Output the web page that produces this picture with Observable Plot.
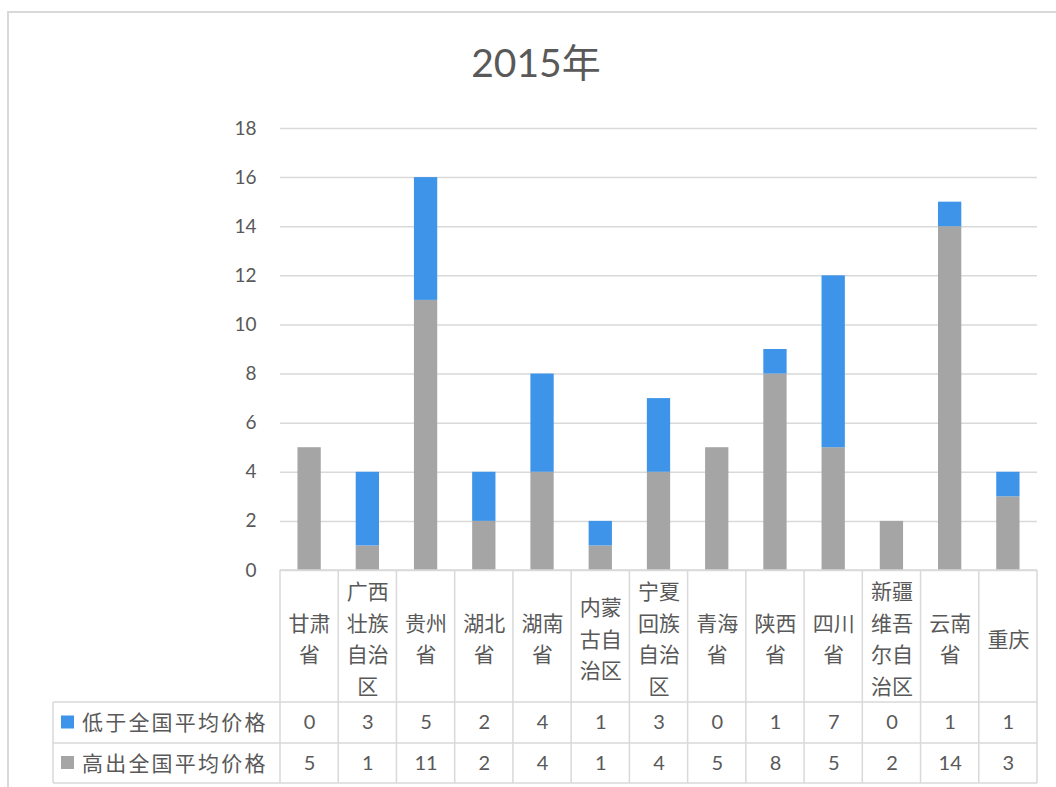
<!DOCTYPE html>
<html>
<head>
<meta charset="utf-8">
<script src="https://cdn.jsdelivr.net/npm/d3@7"></script>
<script src="https://cdn.jsdelivr.net/npm/@observablehq/plot@0.6"></script>
<style>
  body { margin: 0; background: #fff; }
  #wrap { position: relative; width: 1056px; height: 787px; overflow: hidden; font-family: Lato, "Noto Sans CJK SC", sans-serif; }
  #frame { position: absolute; left: 7px; top: 11px; width: 1100px; height: 800px; border-top: 2px solid #d9d9d9; border-left: 2px solid #d9d9d9; }
  #title { position: absolute; left: 16px; top: 43px; width: 1040px; text-align: center; font-size: 39px; line-height: 39px; color: #595959; font-family: Lato, "Noto Sans CJK SC", sans-serif; white-space: nowrap; }
  #chart { position: absolute; left: 0; top: 110px; }
</style>
</head>
<body>
<div id="wrap">
  <div id="frame"></div>
  <div id="title">2015年</div>
  <div id="chart"></div>
</div>
<script>
const titleText = "2015年";
const provinces = ["甘肃省", "广西壮族自治区", "贵州省", "湖北省", "湖南省", "内蒙古自治区", "宁夏回族自治区", "青海省", "陕西省", "四川省", "新疆维吾尔自治区", "云南省", "重庆"];
const belowAvg = [0, 3, 5, 2, 4, 1, 3, 0, 1, 7, 0, 1, 1];
const aboveAvg = [5, 1, 11, 2, 4, 1, 4, 5, 8, 5, 2, 14, 3];
const seriesNames = ["低于全国平均价格", "高出全国平均价格"];
const seriesColors = ["#3d94e8", "#a5a5a5"];
const yTicks = [0, 2, 4, 6, 8, 10, 12, 14, 16, 18];

document.getElementById("title").textContent = titleText;

// long-format table: grey (above) stacked first at the bottom, blue (below) on top
const rows = [];
provinces.forEach((p, i) => {
  rows.push({ province: p, series: seriesNames[1], value: aboveAvg[i] });
  rows.push({ province: p, series: seriesNames[0], value: belowAvg[i] });
});

const wrapLabel = (s) => (s.match(/.{1,2}/g) || [s]).join("\n");

const textColor = "#595959";
const lineColor = "#d9d9d9";

const plot = Plot.plot({
  width: 1056,
  height: 677,
  marginTop: 18,
  marginBottom: 217,
  marginLeft: 280,
  marginRight: 19,
  style: { background: "transparent", fontFamily: "Lato, 'Noto Sans CJK SC', sans-serif", color: textColor, overflow: "visible" },
  x: { domain: provinces, paddingInner: 0.6, paddingOuter: 0.3, round: false, axis: null },
  y: { domain: [0, 18], label: null },
  color: { domain: seriesNames, range: seriesColors },
  marks: [
    Plot.gridY(yTicks, { stroke: lineColor, strokeOpacity: 1, strokeWidth: 1.5 }),
    Plot.axisY(yTicks, { tickSize: 0, tickPadding: 24, fontSize: 19, fill: textColor, label: null }),
    Plot.barY(rows, Plot.stackY({ x: "province", y: "value", fill: "series" })),
    Plot.text(provinces, {
      x: d => d, text: d => wrapLabel(d), frameAnchor: "bottom", lineAnchor: "middle", dy: 66,
      fontSize: 21, lineHeight: 1.5, fill: textColor, fontFamily: "Noto Sans CJK SC"
    }),
    Plot.text(provinces, {
      x: d => d, text: (d, i) => String(belowAvg[i]), frameAnchor: "bottom", lineAnchor: "middle", dy: 152.5,
      fontSize: 20, fill: textColor
    }),
    Plot.text(provinces, {
      x: d => d, text: (d, i) => String(aboveAvg[i]), frameAnchor: "bottom", lineAnchor: "middle", dy: 193,
      fontSize: 20, fill: textColor
    })
  ]
});

document.getElementById("chart").appendChild(plot);

// data table grid + legend keys, positioned from Plot's scales
const xs = plot.scale("x");
const ys = plot.scale("y");
const y0 = ys.apply(0);
const step = xs.step;
const bw = xs.bandwidth;
const centers = provinces.map(p => xs.apply(p) + bw / 2);
const bounds = centers.map(c => c - step / 2).concat([centers[centers.length - 1] + step / 2]);
const tableLeft = 53;
const rowTop1 = y0 + 132, rowTop2 = y0 + 173, rowBottom = y0 + 213;
const right = bounds[bounds.length - 1];

const svg = d3.select(plot);
const g = svg.append("g").attr("stroke", lineColor).attr("stroke-width", 1.5).attr("fill", "none");
bounds.forEach(b => {
  g.append("line").attr("x1", b).attr("x2", b).attr("y1", y0).attr("y2", rowBottom);
});
g.append("line").attr("x1", tableLeft).attr("x2", tableLeft).attr("y1", rowTop1).attr("y2", rowBottom);
[rowTop1, rowTop2, rowBottom].forEach(yy => {
  g.append("line").attr("x1", tableLeft).attr("x2", right).attr("y1", yy).attr("y2", yy);
});
g.append("line").attr("x1", bounds[0]).attr("x2", right).attr("y1", y0).attr("y2", y0);

const lg = svg.append("g");
[[seriesNames[0], seriesColors[0], (rowTop1 + rowTop2) / 2], [seriesNames[1], seriesColors[1], (rowTop2 + rowBottom) / 2]].forEach(([name, col, cy]) => {
  lg.append("rect").attr("x", 61).attr("y", cy - 7).attr("width", 13).attr("height", 13).attr("fill", col);
  lg.append("text").attr("x", 82).attr("y", cy).attr("dy", "0.36em")
    .attr("text-anchor", "start").attr("fill", textColor)
    .attr("font-family", "Noto Sans CJK SC").attr("font-size", 21).attr("letter-spacing", 2.2)
    .text(name);
});
</script>
</body>
</html>
